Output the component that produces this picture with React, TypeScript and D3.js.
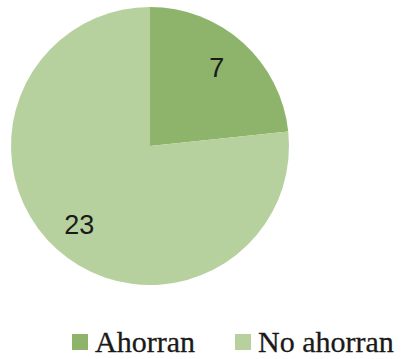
import React from "react";
import * as d3 from "d3";

const categories = ["Ahorran", "No ahorran"];
const values = [7, 23];
const colors = ["#8db46a", "#b6d19d"];

export default function App() {
  const width = 407;
  const height = 359;
  const cx = 150;
  const cy = 146;
  const r = 139;
  const pie = d3.pie<number>().sort(null).value((d) => d);
  const arcs = pie(values);
  const arc = d3.arc<d3.PieArcDatum<number>>().innerRadius(0).outerRadius(r);
  const labelArc = d3
    .arc<d3.PieArcDatum<number>>()
    .innerRadius(r * 0.76)
    .outerRadius(r * 0.76);

  const legendX = [72, 235];
  return (
    <svg
      width={width}
      height={height}
      style={{ position: "absolute", left: 0, top: 0 }}
    >
      <rect width={width} height={height} fill="#fff" />
      <g transform={`translate(${cx},${cy})`}>
        {arcs.map((a, i) => (
          <path key={i} d={arc(a) || ""} fill={colors[i]} />
        ))}
        {arcs.map((a, i) => {
          const [x, y] = labelArc.centroid(a);
          return (
            <text
              key={"l" + i}
              x={x - (i === 0 ? 4 : 0)}
              y={y}
              textAnchor="middle"
              dominantBaseline="central"
              fontFamily="'Liberation Sans', Arial, sans-serif"
              fontSize={27}
              fill="#1a1a1a"
            >
              {values[i]}
            </text>
          );
        })}
      </g>
      {categories.map((c, i) => (
        <g key={"lg" + i}>
          <rect x={legendX[i]} y={334} width={16} height={16} fill={colors[i]} />
          <text
            x={legendX[i] + 23}
            y={352}
            fontFamily="'Liberation Serif', 'DejaVu Serif', serif"
            fontSize={30}
            fill="#1a1a1a"
            stroke="#1a1a1a"
            strokeWidth={0.3}
          >
            {c}
          </text>
        </g>
      ))}
    </svg>
  );
}
